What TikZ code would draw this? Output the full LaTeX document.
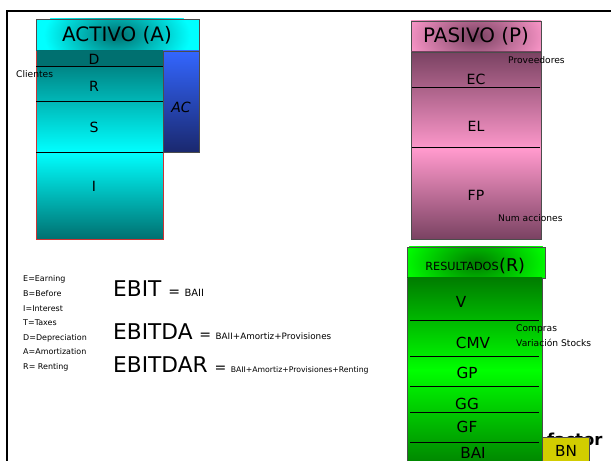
\documentclass[tikz,border=0pt]{standalone}
\usepackage{fontspec}
\setmainfont{DejaVu Sans}
\definecolor{cyanx}{RGB}{0,255,255}
\definecolor{tealdk}{RGB}{0,112,112}
\definecolor{mauve}{RGB}{122,66,98}
\definecolor{pinkp}{RGB}{255,153,204}
\definecolor{greendk}{RGB}{0,125,0}
\definecolor{greenlt}{RGB}{0,255,0}
\definecolor{acblue}{RGB}{51,102,255}
\definecolor{acnavy}{RGB}{26,40,110}
\definecolor{bnyel}{RGB}{210,205,0}
\begin{document}
\begin{tikzpicture}[x=0.03cm,y=-0.03cm,
every node/.style={inner sep=0pt},
head/.style={font=\fontsize{17}{17}\selectfont},
band/.style={font=\fontsize{12}{12}\selectfont},
rband/.style={font=\fontsize{13}{13}\selectfont},
note/.style={anchor=base west,font=\fontsize{7.8}{9}\selectfont},
tiny/.style={anchor=base west,font=\fontsize{6.8}{7}\selectfont},
ebit/.style={anchor=base west,font=\fontsize{18.5}{19}\selectfont},
sep/.style={black,line width=0.6pt},
edge/.style={gray!60!black,line width=0.4pt}]
\useasboundingbox (0,0) rectangle (611,461);
\clip (0,0) rectangle (611,461);
% frame
\draw[line width=2.2pt] (611,11) -- (7,11) -- (7,462);
% activo
\begin{scope}
\clip (36,19) rectangle (199,51);
\fill[cyanx] (36,19) rectangle (199,51);
\shade[inner color=tealdk,outer color=cyanx] (117,35) ellipse (2.2cm and 1.2cm);
\end{scope}
\draw[edge] (36,19) rectangle (199,51);
\shade[top color=tealdk,bottom color=cyanx] (36,51) rectangle (163,152);
\fill[tealdk] (36,51) rectangle (163,66);
\shade[top color=cyanx,middle color=cyanx!80!tealdk,bottom color=tealdk] (36,152) rectangle (163,239);
\draw[red!60!gray] (36,51) -- (36,239) -- (163,239) -- (163,152);
\foreach \y in {66,101,152} \draw[sep] (36,\y) -- (163,\y);
\shade[top color=acblue,bottom color=acnavy] (163,51) rectangle (199,152);
\draw[edge] (163,51) rectangle (199,152);
\node[head] (activo) at (117,35) {ACTIVO (A)};
\node[band] (D) at (94,59) {D};
\node[band] (R) at (94,86) {R};
\node[band] (S) at (94,127) {S};
\node[band] (I) at (94,186) {I};
\node[band,font=\fontsize{12}{12}\itshape] (AC) at (181,107) {AC};
\node[note] (clientes) at (16,78) {Clientes};
% pasivo
\begin{scope}
\clip (411,21) rectangle (541,52);
\fill[pinkp] (411,21) rectangle (541,52);
\shade[inner color=mauve,outer color=pinkp] (476,36) ellipse (2.2cm and 1.2cm);
\end{scope}
\draw[edge] (411,21) rectangle (541,52);
\shade[top color=mauve,bottom color=pinkp] (411,52) rectangle (541,150);
\shade[top color=pinkp,bottom color=mauve] (411,150) rectangle (541,239);
\draw[edge] (411,52) rectangle (541,239);
\foreach \y in {87,147} \draw[sep] (412,\y) -- (540,\y);
\node[head] (pasivo) at (476,36) {PASIVO (P)};
\node[band] (EC) at (476,79) {EC};
\node[band] (EL) at (476,126) {EL};
\node[band] (FP) at (476,195) {FP};
\node[note] (prov) at (508,64) {Proveedores};
\node[note] (acc) at (498,222) {Num acciones};
% resultados
\begin{scope}
\clip (407,247) rectangle (545,278);
\fill[greenlt] (407,247) rectangle (545,278);
\shade[inner color=greendk,outer color=greenlt] (476,263) ellipse (2.2cm and 1.2cm);
\end{scope}
\draw[edge] (407,247) rectangle (545,278);
\shade[top color=greendk,bottom color=greenlt] (407,278) rectangle (542,370);
\shade[top color=greenlt,bottom color=greendk] (407,370) rectangle (542,470);
\draw[edge] (407,278) -- (407,470) (542,278) -- (542,470);
\foreach \y in {320,356,386,412,442} \draw[sep] (410,\y) -- (539,\y);
\node[font=\fontsize{9.6}{10}\selectfont] (resul) at (462,266) {RESULTADOS};
\node[font=\fontsize{15}{15}\selectfont,anchor=west] (Rr) at (resul.east) {(R)};
\node[rband] (V) at (461,302) {V};
\node[rband] (CMV) at (473,343) {CMV};
\node[rband] (GP) at (467,373) {GP};
\node[rband] (GG) at (467,404) {GG};
\node[rband] (GF) at (467,427) {GF};
\node[rband] (BAI) at (473,453) {BAI};
\node[note] (compras) at (516,332) {Compras};
\node[note] (stocks) at (516,347) {Variación Stocks};
\node[anchor=base west,font=\fontsize{14}{14}\bfseries] (factor) at (547,446) {factor};
\fill[bnyel] (542,437) rectangle (589,470);
\draw[edge] (542,437) rectangle (589,470);
\node[rband] (BN) at (566,451) {BN};
% siglas
\foreach \t [count=\i from 0] in {E=Earning,B=Before,I=Interest,T=Taxes,D=Depreciation,A=Amortization,R= Renting}
  \node[tiny] (sigla\i) at (23,282+14.6*\i) {\t};
\node[ebit] (ebit) at (113,297) {EBIT \fontsize{12}{12}\selectfont= \fontsize{8.5}{9}\selectfont BAII};
\node[ebit] (ebitda) at (113,340) {EBITDA \fontsize{12}{12}\selectfont= \fontsize{7.5}{8}\selectfont BAII+Amortiz+Provisiones};
\node[ebit] (ebitdar) at (113,373) {EBITDAR \fontsize{12}{12}\selectfont= \fontsize{6.6}{7}\selectfont BAII+Amortiz+Provisiones+Renting};
\end{tikzpicture}
\end{document}
